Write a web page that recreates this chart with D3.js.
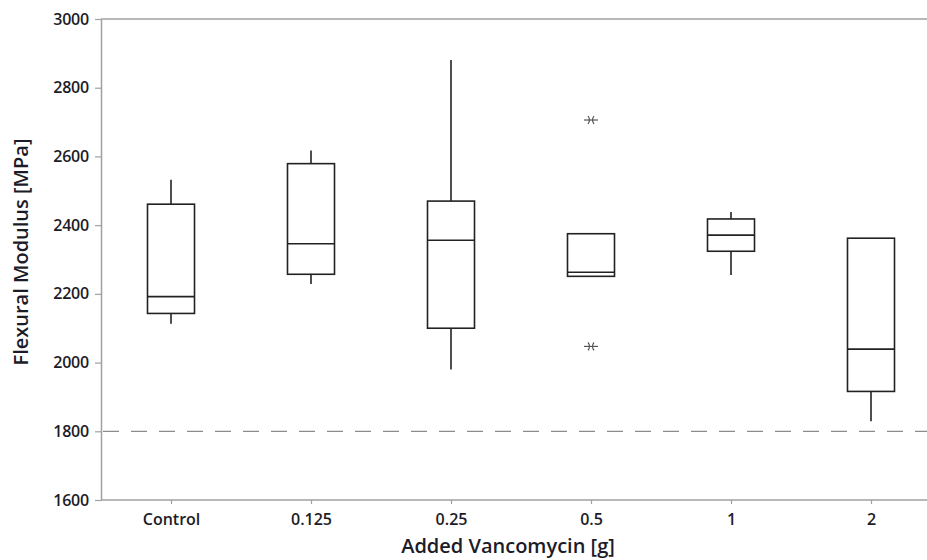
<!DOCTYPE html>
<html>
<head>
  <script src="https://d3js.org/d3.v7.min.js"></script>
  <style>
    body { margin: 0; background: #fff; }
    text { font-family: "Open Sans", "DejaVu Sans", sans-serif; }
  </style>
</head>
<body>
  <svg width="927" height="560"></svg>
  <script>
    // Box plot statistics (MPa)
    const categories = ["Control", "0.125", "0.25", "0.5", "1", "2"];
    const whiskerHigh = [2532, 2617, 2881, 2375, 2438, 2362];
    const q3 = [2461, 2579, 2470, 2375, 2418, 2362];
    const median = [2192, 2346, 2356, 2263, 2371, 2039];
    const q1 = [2143, 2257, 2100, 2251, 2324, 1916];
    const whiskerLow = [2113, 2229, 1980, 2251, 2255, 1829];
    const outliers = [[], [], [], [2706, 2047], [], []];
    const yTicks = [1600, 1800, 2000, 2200, 2400, 2600, 2800, 3000];
    const reference = 1800;

    const svg = d3.select("svg");
    const plotLeft = 101, plotRight = 927, plotTop = 19, plotBottom = 500;
    const axisColor = "#a0a0a0";
    const textColor = "#1c1c28";

    const y = d3.scaleLinear().domain([1600, 3000]).range([plotBottom, plotTop]);
    const x = d3.scalePoint().domain(categories).range([171, 871]);
    const halfW = 23.5;

    // frame: top line
    svg.append("line")
      .attr("x1", plotLeft).attr("x2", plotRight)
      .attr("y1", plotTop).attr("y2", plotTop)
      .attr("stroke", axisColor).attr("stroke-width", 1.5);

    // y axis
    const yAxis = svg.append("g")
      .attr("transform", `translate(${plotLeft},0)`)
      .call(d3.axisLeft(y).tickValues(yTicks).tickFormat(d3.format("d"))
        .tickSize(6).tickSizeOuter(0).tickPadding(6));
    yAxis.select(".domain").attr("stroke", axisColor).attr("stroke-width", 1.5);
    yAxis.selectAll(".tick line").attr("stroke", axisColor).attr("stroke-width", 1.2);
    yAxis.selectAll(".tick text")
      .attr("fill", textColor).attr("font-size", 16).attr("font-weight", 600)
      .style("letter-spacing", "-0.2px");

    // x axis
    const xAxis = svg.append("g")
      .attr("transform", `translate(0,${plotBottom})`)
      .call(d3.axisBottom(x).tickSize(4).tickSizeOuter(0).tickPadding(10));
    xAxis.select(".domain").attr("d", `M${plotLeft},0H${plotRight}`)
      .attr("stroke", axisColor).attr("stroke-width", 1.5);
    xAxis.selectAll(".tick line").attr("stroke", axisColor).attr("stroke-width", 1.2);
    xAxis.selectAll(".tick text")
      .attr("fill", textColor).attr("font-size", 16).attr("font-weight", 600);

    // reference line
    svg.append("line")
      .attr("x1", plotLeft + 2).attr("x2", plotRight)
      .attr("y1", y(reference)).attr("y2", y(reference))
      .attr("stroke", "#8c8c8c").attr("stroke-width", 1.3)
      .attr("stroke-dasharray", "16,12");

    // boxes
    const boxes = svg.append("g").selectAll("g")
      .data(categories)
      .join("g");

    boxes.append("line")
      .attr("x1", d => x(d)).attr("x2", d => x(d))
      .attr("y1", (d, i) => y(whiskerHigh[i])).attr("y2", (d, i) => y(q3[i]))
      .attr("stroke", "#222").attr("stroke-width", 1.6);
    boxes.append("line")
      .attr("x1", d => x(d)).attr("x2", d => x(d))
      .attr("y1", (d, i) => y(q1[i])).attr("y2", (d, i) => y(whiskerLow[i]))
      .attr("stroke", "#222").attr("stroke-width", 1.6);
    boxes.append("rect")
      .attr("x", d => x(d) - halfW).attr("width", halfW * 2)
      .attr("y", (d, i) => y(q3[i]))
      .attr("height", (d, i) => y(q1[i]) - y(q3[i]))
      .attr("fill", "#fff").attr("stroke", "#222").attr("stroke-width", 1.6);
    boxes.append("line")
      .attr("x1", d => x(d) - halfW).attr("x2", d => x(d) + halfW)
      .attr("y1", (d, i) => y(median[i])).attr("y2", (d, i) => y(median[i]))
      .attr("stroke", "#222").attr("stroke-width", 1.6);

    // outliers (asterisk with bar)
    const pts = [];
    categories.forEach((c, i) => outliers[i].forEach(v => pts.push({ c, v })));
    const marks = svg.append("g").selectAll("g")
      .data(pts)
      .join("g")
      .attr("transform", d => `translate(${x(d.c)},${y(d.v)})`)
      .attr("stroke", "#555").attr("stroke-width", 1.2).attr("fill", "none");
    marks.append("path").attr("d", "M-7,0H7");
    marks.append("path").attr("d", "M-3,-4Q0,0 -3,4M3,-4Q0,0 3,4");

    // axis titles
    svg.append("text")
      .attr("x", 508).attr("y", 553)
      .attr("text-anchor", "middle")
      .attr("fill", textColor).attr("font-size", 20).attr("font-weight", 600)
      .text("Added Vancomycin [g]");
    svg.append("text")
      .attr("transform", "translate(28,252) rotate(-90)")
      .attr("text-anchor", "middle")
      .attr("fill", textColor).attr("font-size", 20).attr("font-weight", 600)
      .text("Flexural Modulus [MPa]");
  </script>
</body>
</html>
